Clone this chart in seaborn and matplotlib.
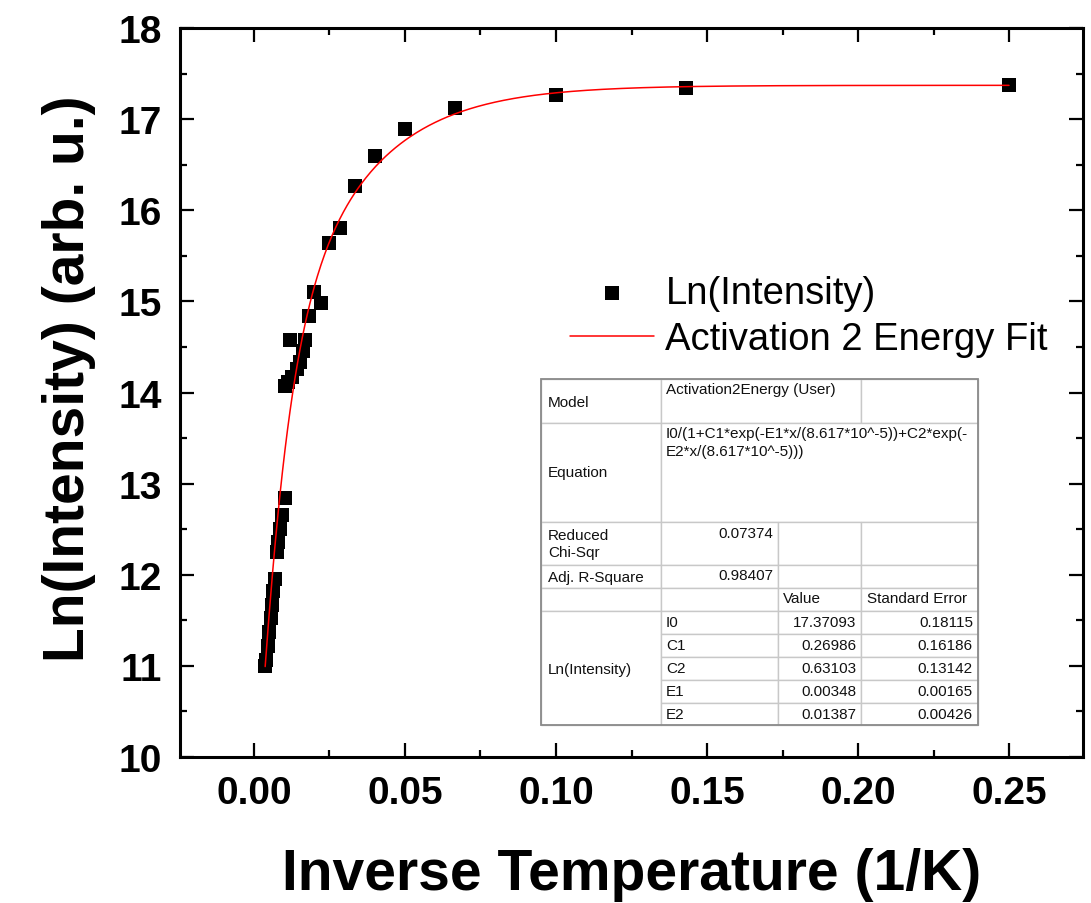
import numpy as np
import pandas as pd
import matplotlib
matplotlib.use("Agg")
import matplotlib.pyplot as plt
from matplotlib.patches import Rectangle
from matplotlib.ticker import MultipleLocator
import seaborn as sns

# Measured Ln(Intensity) versus inverse temperature (1/K)
inv_temp = [0.25, 0.1429, 0.1, 0.0667, 0.05, 0.04, 0.0333, 0.0286, 0.025,
            0.0222, 0.02, 0.0182, 0.0169, 0.0162, 0.0152, 0.0143, 0.0126,
            0.0119, 0.0113, 0.0103, 0.0103, 0.0094, 0.0087, 0.0081, 0.0076,
            0.0070, 0.0064, 0.0060, 0.0055, 0.0050, 0.0045, 0.0040, 0.0037]
ln_intensity = [17.37, 17.34, 17.27, 17.12, 16.89, 16.60, 16.27, 15.80, 15.64,
                14.98, 15.10, 14.84, 14.58, 14.45, 14.34, 14.26, 14.17,
                14.58, 14.12, 14.07, 12.84, 12.66, 12.50, 12.36, 12.25,
                11.95, 11.82, 11.67, 11.52, 11.37, 11.22, 11.06, 11.00]

# Fit results of the two-activation-energy model
param_names = ["I0", "C1", "C2", "E1", "E2"]
param_values = [17.37093, 0.26986, 0.63103, 0.00348, 0.01387]
param_errors = [0.18115, 0.16186, 0.13142, 0.00165, 0.00426]
reduced_chi_sqr = "0.07374"
adj_r_square = "0.98407"
k_B = 8.617e-5

x_ticks = [0.00, 0.05, 0.10, 0.15, 0.20, 0.25]
y_ticks = [10, 11, 12, 13, 14, 15, 16, 17, 18]

I0, C1, C2, E1, E2 = param_values
x_fit = np.linspace(min(inv_temp), max(inv_temp), 600)
y_fit = I0 / (1 + C1 * np.exp(-E1 * x_fit / k_B) + C2 * np.exp(-E2 * x_fit / k_B))

data = pd.DataFrame({"x": inv_temp, "y": ln_intensity})
fit = pd.DataFrame({"x": x_fit, "y": y_fit})

sns.set_style("ticks")
plt.rcParams["font.family"] = ["Liberation Sans", "DejaVu Sans"]
for key in ("text.color", "axes.labelcolor", "xtick.color", "ytick.color",
            "axes.edgecolor"):
    plt.rcParams[key] = "black"

W, H = 1091, 904
fig = plt.figure(figsize=(W / 100, H / 100), dpi=100)
L, R, T, B = 180, 1083, 29, 758
ax = fig.add_axes([L / W, 1 - B / H, (R - L) / W, (B - T) / H])

sns.scatterplot(data=data, x="x", y="y", marker="s", s=95, color="black",
                edgecolor="black", linewidth=0, label="Ln(Intensity)",
                ax=ax, zorder=3)
sns.lineplot(data=fit, x="x", y="y", color="#ff0000", linewidth=1.1,
             label="Activation 2 Energy Fit", ax=ax, zorder=4)

ax.set_xlim(-0.0245, 0.2745)
ax.set_ylim(10, 18)
ax.set_xticks(x_ticks)
ax.set_xticklabels([f"{v:.2f}" for v in x_ticks])
ax.set_yticks(y_ticks)
ax.xaxis.set_minor_locator(MultipleLocator(0.025))
ax.yaxis.set_minor_locator(MultipleLocator(0.5))
ax.tick_params(which="both", direction="in", top=True, right=True, width=1.6,
               labelsize=28, pad=13, colors="black")
ax.tick_params(which="major", length=10)
ax.tick_params(which="minor", length=5)
for lab in ax.get_xticklabels() + ax.get_yticklabels():
    lab.set_fontweight("bold")
for sp in ax.spines.values():
    sp.set_linewidth(2.2)
    sp.set_color("black")
    sp.set_visible(True)

ax.set_xlabel("Inverse Temperature (1/K)", fontsize=41, fontweight="bold",
              labelpad=26)
ax.set_ylabel("Ln(Intensity) (arb. u.)", fontsize=41, fontweight="bold")
ax.yaxis.set_label_coords(-0.093, 0.521)

leg = ax.legend(loc="upper left", bbox_to_anchor=(570 / W, 1 - 276 / H),
                bbox_transform=fig.transFigure, frameon=False, fontsize=27.5,
                handlelength=2.2, handletextpad=0.3, labelspacing=0.27,
                borderpad=0, borderaxespad=0, markerscale=1.0)

# Fit summary table
tx0, ty0, tw, th = 541, 380, 437, 346
tax = fig.add_axes([tx0 / W, 1 - (ty0 + th) / H, tw / W, th / H])
tax.set_xlim(0, tw)
tax.set_ylim(th, 0)
tax.axis("off")

cx = [0, 120, 237, 320, 437]
ry = [0, 44, 143, 186, 209, 232, 255, 278, 301, 324, 346]
grid = "#c8c8c8"

def cell(c0, c1, r0, r1):
    tax.add_patch(Rectangle((cx[c0], ry[r0]), cx[c1] - cx[c0], ry[r1] - ry[r0],
                            facecolor="white", edgecolor=grid, linewidth=1.0,
                            clip_on=False))

cell(0, 1, 0, 1); cell(1, 3, 0, 1); cell(3, 4, 0, 1)
cell(0, 1, 1, 2); cell(1, 4, 1, 2)
for r in (2, 3, 4):
    for c in range(4):
        cell(c, c + 1, r, r + 1)
cell(0, 1, 5, 10)
for r in range(5, 10):
    for c in (1, 2, 3):
        cell(c, c + 1, r, r + 1)
tax.add_patch(Rectangle((0, 0), tw, th, facecolor="none", edgecolor="#8a8a8a",
                        linewidth=1.3, clip_on=False))

fs = 11
def txt(x, y, s, ha="left"):
    tax.text(x, y, s, fontsize=fs, ha=ha, va="center", color="#111111")

txt(7, 23, "Model")
txt(125, 10, "Activation2Energy (User)")
txt(7, 93, "Equation")
txt(125, 54, "I0/(1+C1*exp(-E1*x/(8.617*10^-5))+C2*exp(-")
txt(125, 72, "E2*x/(8.617*10^-5)))")
txt(7, 156, "Reduced")
txt(7, 173, "Chi-Sqr")
txt(232, 154, reduced_chi_sqr, ha="right")
txt(7, 198, "Adj. R-Square")
txt(232, 196, adj_r_square, ha="right")
txt(242, 219, "Value")
txt(326, 219, "Standard Error")
txt(7, 290, "Ln(Intensity)")
for i, (n, v, e) in enumerate(zip(param_names, param_values, param_errors)):
    yc = (ry[5 + i] + ry[6 + i]) / 2
    txt(125, yc, n)
    txt(315, yc, f"{v:.5f}", ha="right")
    txt(432, yc, f"{e:.5f}", ha="right")

fig.savefig("out.png", dpi=100, facecolor="white")
